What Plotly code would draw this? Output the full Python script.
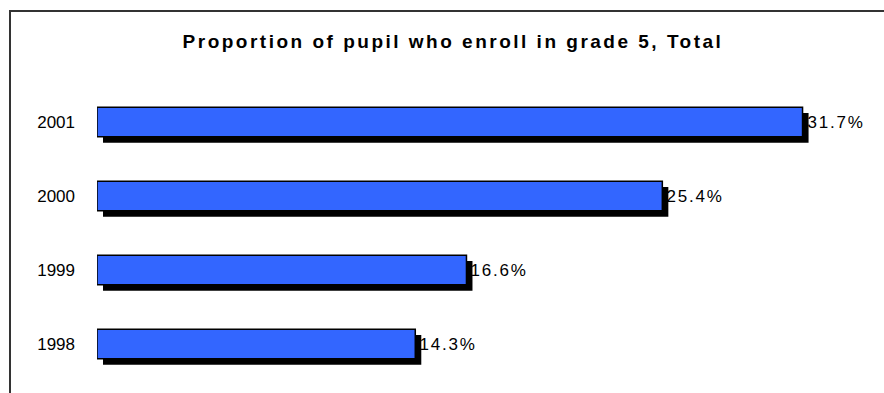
import plotly.graph_objects as go

years = ["1998", "1999", "2000", "2001"]
values = [14.3, 16.6, 25.4, 31.7]
title_text = "Proportion of pupil who enroll in grade 5, Total"

positions = list(range(len(years)))
bar_width = 0.4
shadow_dx = 0.27    # shadow shift along value axis (percent units)
shadow_dy = 0.08    # shadow shift along category axis

FONT = "Liberation Sans, Arial, sans-serif"

fig = go.Figure()

# drop shadow behind each bar
fig.add_trace(go.Bar(
    y=[p - shadow_dy for p in positions],
    x=values,
    base=[shadow_dx] * len(values),
    orientation="h",
    width=bar_width,
    marker=dict(color="#000000", line=dict(width=0)),
    hoverinfo="skip",
    showlegend=False,
))

# main bars
fig.add_trace(go.Bar(
    y=positions,
    x=values,
    orientation="h",
    width=bar_width,
    marker=dict(color="#3366FF", line=dict(color="#000000", width=1.5)),
    showlegend=False,
))

# value labels placed just past the shadow's end
annotations = [
    dict(
        x=v + shadow_dx, y=p,
        xref="x", yref="y",
        text=f"{v:.1f}%",
        showarrow=False,
        xanchor="left", yanchor="middle",
        xshift=1,
        font=dict(family=FONT, size=17, color="#000000"),
    )
    for v, p in zip(values, positions)
]

fig.update_layout(
    width=884,
    height=393,
    barmode="overlay",
    paper_bgcolor="white",
    plot_bgcolor="white",
    margin=dict(l=97, r=8, t=85, b=12),
    font=dict(family=FONT, size=17, color="#000000"),
    title=dict(
        text=f"<b>{title_text}</b>",
        x=453 / 884,
        xref="container",
        xanchor="center",
        y=1 - 41 / 393,
        yref="container",
        yanchor="middle",
        font=dict(family=FONT, size=19, color="#000000"),
    ),
    xaxis=dict(
        range=[0, 35],
        showgrid=False,
        zeroline=False,
        showline=False,
        showticklabels=False,
        ticks="",
    ),
    yaxis=dict(
        range=[-0.5, 3.5],
        tickmode="array",
        tickvals=positions,
        ticktext=years,
        showgrid=False,
        zeroline=False,
        showline=False,
        ticks="",
        ticklabelstandoff=21,
        tickfont=dict(family=FONT, size=17, color="#000000"),
    ),
    annotations=annotations,
    shapes=[
        dict(
            type="rect",
            xref="paper", yref="paper",
            x0=(10 - 97) / 779, x1=1.2,
            y0=-0.2, y1=(381 - 11) / 296,
            line=dict(color="#333333", width=2),
            fillcolor="rgba(0,0,0,0)",
            layer="below",
        )
    ],
)

# widen the character spacing of the title and value labels
spacing_js = """
var gd = document.getElementById('{plot_id}');
function applySpacing() {
  gd.querySelectorAll('.gtitle').forEach(function (e) { e.style.letterSpacing = '2.5px'; });
  gd.querySelectorAll('.annotation-text').forEach(function (e) { e.style.letterSpacing = '1.8px'; });
}
applySpacing();
gd.on('plotly_afterplot', applySpacing);
"""

fig.write_html("out.html", post_script=spacing_js)
